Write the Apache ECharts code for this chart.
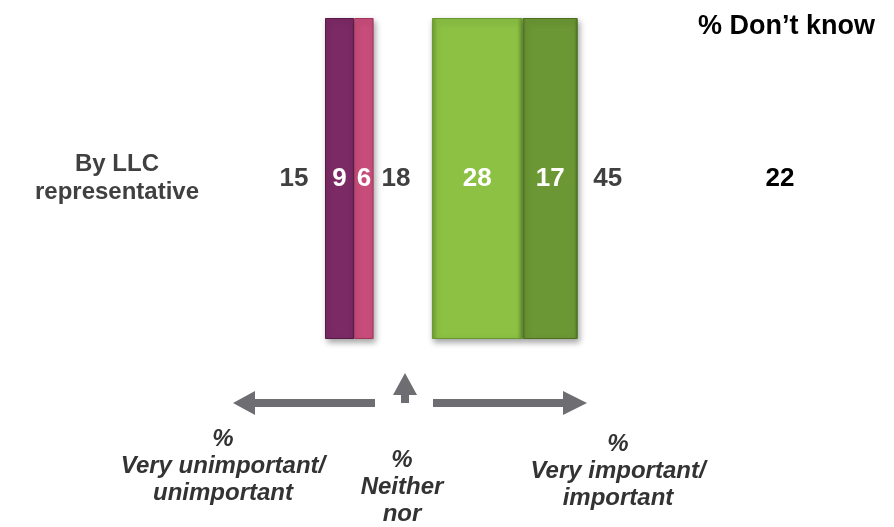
<!DOCTYPE html>
<html>
<head>
<meta charset="utf-8">
<script src="https://cdn.jsdelivr.net/npm/echarts@6/dist/echarts.min.js"></script>
<style>
  html, body { margin: 0; padding: 0; background: #ffffff; }
  #chart { width: 894px; height: 527px; }
</style>
</head>
<body>
<div id="chart"></div>
<script>
// ---- Data ----
const categories = ['By LLC\nrepresentative'];
const veryUnimportant = [9];
const unimportant = [6];
const neither = [18];
const important = [28];
const veryImportant = [17];
const dontKnow = [22];
const dontKnowTitle = '% Don\u2019t know';
const bottomLabels = ['%\nVery unimportant/\nunimportant', '%\nNeither\nnor', '%\nVery important/\nimportant'];

// derived totals
const netUnimportant = veryUnimportant.map((v, i) => v + unimportant[i]);
const netImportant = important.map((v, i) => v + veryImportant[i]);
const stackEnd = categories.map((c, i) => veryUnimportant[i] + unimportant[i] + neither[i] + important[i] + veryImportant[i]);

const FONT = 'Liberation Sans, Arial, sans-serif';

function barGrad(dark, base) {
  return new echarts.graphic.LinearGradient(0, 0, 1, 0, [
    { offset: 0, color: dark },
    { offset: 0.06, color: base },
    { offset: 0.94, color: base },
    { offset: 1, color: dark }
  ]);
}
const shadow = { shadowColor: 'rgba(0,0,0,0.35)', shadowBlur: 6, shadowOffsetX: 2, shadowOffsetY: 3 };

const numLabel = (color) => ({
  show: true, position: 'inside', color: color, fontFamily: FONT, fontSize: 26, fontWeight: 'bold', opacity: 1
});

const chart = echarts.init(document.getElementById('chart'));
chart.setOption({
  animation: false,
  backgroundColor: '#ffffff',
  title: {
    text: dontKnowTitle, left: 693, top: 8,
    textStyle: { fontFamily: FONT, fontSize: 27, fontWeight: 'bold', color: '#000000' }
  },
  grid: { left: 325, top: 18, width: 324, height: 321 },
  xAxis: { type: 'value', min: 0, max: 100, show: false },
  yAxis: [
    {
      type: 'category', data: categories,
      axisLine: { show: false }, axisTick: { show: false }, splitLine: { show: false },
      axisLabel: { margin: 208, align: 'center', fontFamily: FONT, fontSize: 24, fontWeight: 'bold', color: '#404040', lineHeight: 28 }
    },
    {
      type: 'category', data: categories, position: 'right',
      axisLine: { show: false }, axisTick: { show: false }, splitLine: { show: false },
      axisLabel: { margin: 131, align: 'center', fontFamily: FONT, fontSize: 26, fontWeight: 'bold', color: '#000000',
        formatter: (v, i) => String(dontKnow[i]) }
    }
  ],
  series: [
    {
      name: 'Very unimportant', type: 'bar', stack: 'a', barWidth: '100%', data: veryUnimportant,
      itemStyle: Object.assign({ color: barGrad('#5e1c4b', '#7c2a65'), borderColor: '#5a1a48', borderWidth: 1 }, shadow),
      label: numLabel('#ffffff')
    },
    {
      name: 'Unimportant', type: 'bar', stack: 'a', barWidth: '100%', data: unimportant,
      itemStyle: Object.assign({ color: barGrad('#a8385f', '#c94d7b'), borderColor: '#a3355c', borderWidth: 1 }, shadow),
      label: numLabel('#ffffff')
    },
    {
      name: 'Neither', type: 'bar', stack: 'a', barWidth: '100%', data: neither,
      itemStyle: { color: 'rgba(0,0,0,0)' },
      label: Object.assign(numLabel('#404040'), { position: 'insideLeft', distance: 8 })
    },
    {
      name: 'Important', type: 'bar', stack: 'a', barWidth: '100%', data: important,
      itemStyle: Object.assign({ color: barGrad('#6f9d30', '#8cc144'), borderColor: '#6a962e', borderWidth: 1 }, shadow),
      label: numLabel('#ffffff')
    },
    {
      name: 'Very important', type: 'bar', stack: 'a', barWidth: '100%', data: veryImportant,
      itemStyle: Object.assign({ color: barGrad('#4f7424', '#6b9734'), borderColor: '#4c6f22', borderWidth: 1 }, shadow),
      label: numLabel('#ffffff')
    },
    {
      name: 'Net unimportant', type: 'scatter', symbolSize: 1, itemStyle: { color: 'rgba(0,0,0,0)', opacity: 1 },
      data: netUnimportant.map((v, i) => ({ value: [0, i], total: v })),
      label: { show: true, position: 'left', distance: 16, formatter: (p) => String(p.data.total), opacity: 1,
        color: '#404040', fontFamily: FONT, fontSize: 26, fontWeight: 'bold' }
    },
    {
      name: 'Net important', type: 'scatter', symbolSize: 1, itemStyle: { color: 'rgba(0,0,0,0)', opacity: 1 },
      data: netImportant.map((v, i) => ({ value: [stackEnd[i], i], total: v })),
      label: { show: true, position: 'right', distance: 15, formatter: (p) => String(p.data.total), opacity: 1,
        color: '#404040', fontFamily: FONT, fontSize: 26, fontWeight: 'bold' }
    }
  ],
  graphic: [
    { type: 'polygon', shape: { points: [[233,403],[255,391],[255,399],[375,399],[375,407],[255,407],[255,415]] }, style: { fill: '#6d6d72' } },
    { type: 'polygon', shape: { points: [[405,373],[417,395],[409,395],[409,403],[401,403],[401,395],[393,395]] }, style: { fill: '#6d6d72' } },
    { type: 'polygon', shape: { points: [[433,399],[563,399],[563,391],[587,403],[563,415],[563,407],[433,407]] }, style: { fill: '#6d6d72' } },
    { type: 'text', style: { x: 223, y: 426, text: bottomLabels[0], textAlign: 'center', textVerticalAlign: 'top',
      font: 'italic bold 24px Liberation Sans', lineHeight: 27, fill: '#333333' } },
    { type: 'text', style: { x: 402, y: 447, text: bottomLabels[1], textAlign: 'center', textVerticalAlign: 'top',
      font: 'italic bold 24px Liberation Sans', lineHeight: 27, fill: '#333333' } },
    { type: 'text', style: { x: 618, y: 431, text: bottomLabels[2], textAlign: 'center', textVerticalAlign: 'top',
      font: 'italic bold 24px Liberation Sans', lineHeight: 27, fill: '#333333' } }
  ]
});
</script>
</body>
</html>
